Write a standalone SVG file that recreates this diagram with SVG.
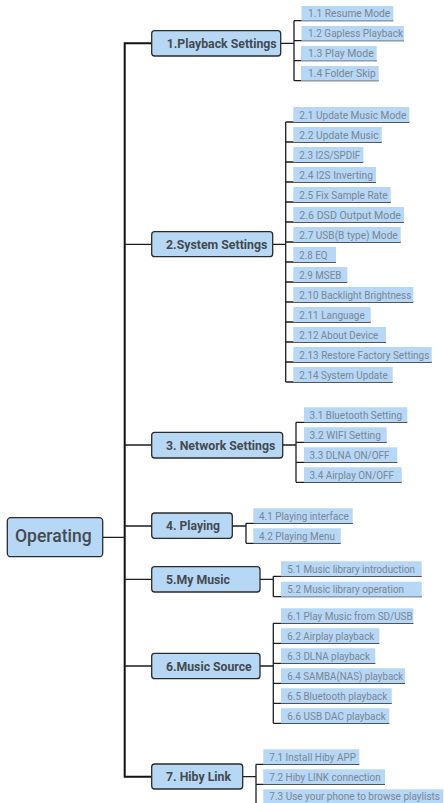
<svg xmlns="http://www.w3.org/2000/svg" width="444" height="803" viewBox="0 0 444 803">
<style>
.bg{fill:#ffffff}
.box{fill:#b7d8f5;stroke:#2b2b2b;stroke-width:1.3}
.lbl{font-family:Roboto,"Liberation Sans",sans-serif;font-weight:bold;font-size:12px;fill:#444a50}
.root{font-family:Roboto,"Liberation Sans",sans-serif;font-weight:500;font-size:17.5px;fill:#444a50}
.hl{fill:#b6d7f5}
.lt{font-family:Roboto,"Liberation Sans",sans-serif;font-size:11px;fill:#7b8694}
.ln{fill:none;stroke:#1e1e1e;stroke-width:1.3}
.tr{fill:none;stroke:#111;stroke-width:2}
</style>
<rect class="bg" x="0" y="0" width="444" height="803"/>
<g id="connectors">
<path class="tr" d="M151.7,43.3 H124.7 V776.7 H151.7"/>
<path class="ln" d="M124.7,244.3 H151.7 M124.7,445 H151.7 M124.7,526 H151.7 M102.7,537.3 H124.7 M124.7,579.3 H151.7 M124.7,666 H151.7"/>
<path class="ln" d="M280.7,43.3 H294 M294,20.7 V80.7 M294,20.7 H393.3 M294,40.7 H404 M294,60.7 H376.7 M294,80.7 H378.7"/>
<path class="ln" d="M272.7,244.3 H285.7 M285.7,122 V382 M285.7,122 H409.3 M285.7,142 H381.7 M285.7,162 H363.3 M285.7,182 H376 M285.7,202 H390.7 M285.7,222 H404 M285.7,242 H400.7 M285.7,262 H336 M285.7,282 H347.3 M285.7,302 H413.3 M285.7,322 H370.7 M285.7,342 H386 M285.7,362 H431.7 M285.7,382 H392.7"/>
<path class="ln" d="M282.7,445 H296 M296,422.3 V482.3 M296,422.3 H407.3 M296,442.3 H386.7 M296,462.3 H397.3 M296,482.3 H401.7"/>
<path class="ln" d="M232.3,526 H246 M246,523.3 V543.3 M246,523.3 H352.7 M246,543.3 H340.7"/>
<path class="ln" d="M260,579.3 H273.3 M273.3,576.3 V596.7 M273.3,576.3 H421.7 M273.3,596.7 H421.7"/>
<path class="ln" d="M260,666 H273.3 M273.3,623.3 V723.3 M273.3,623.3 H413.3 M273.3,643.3 H379.3 M273.3,663.3 H375.3 M273.3,683.3 H405 M273.3,703.3 H391.7 M273.3,723.3 H389.3"/>
<path class="ln" d="M242.7,776.7 H256 M256,764.3 V803 M256,764.3 H359.3 M256,784.3 H385 M256,804.3 H443.3"/>
</g>
<g id="root">
<rect class="box" x="7.3" y="517.7" width="95.4" height="39" rx="3.5"/>
<text class="root" x="15" y="542" textLength="76.7" lengthAdjust="spacingAndGlyphs">Operating</text>
</g>
<g id="n1">
<rect class="box" x="151.7" y="30.7" width="129" height="25.3" rx="3"/>
<text class="lbl" x="166.7" y="48" textLength="110" lengthAdjust="spacingAndGlyphs">1.Playback Settings</text>
</g>
<g id="n1-leaves">
<rect class="hl" x="301.5" y="6" width="91.8" height="14.7"/>
<text class="lt" x="308" y="17.4" textLength="82.3" lengthAdjust="spacingAndGlyphs">1.1 Resume Mode</text>
<rect class="hl" x="301.5" y="26" width="102.5" height="14.7"/>
<text class="lt" x="308" y="37.4" textLength="95" lengthAdjust="spacingAndGlyphs">1.2 Gapless Playback</text>
<rect class="hl" x="301" y="46" width="75.7" height="14.7"/>
<text class="lt" x="308" y="57.4" textLength="65.7" lengthAdjust="spacingAndGlyphs">1.3 Play Mode</text>
<rect class="hl" x="301" y="66" width="77.7" height="14.7"/>
<text class="lt" x="308" y="77.4" textLength="67.7" lengthAdjust="spacingAndGlyphs">1.4 Folder Skip</text>
</g>
<g id="n2">
<rect class="box" x="151.7" y="231.7" width="121" height="25" rx="3"/>
<text class="lbl" x="166" y="249" textLength="101.3" lengthAdjust="spacingAndGlyphs">2.System Settings</text>
</g>
<g id="n2-leaves">
<rect class="hl" x="293.3" y="107" width="116" height="15"/>
<text class="lt" x="299.3" y="118.7" textLength="107" lengthAdjust="spacingAndGlyphs">2.1 Update Music Mode</text>
<rect class="hl" x="293.3" y="127" width="88.4" height="15"/>
<text class="lt" x="299.3" y="138.7" textLength="79.4" lengthAdjust="spacingAndGlyphs">2.2 Update Music</text>
<rect class="hl" x="293.3" y="147" width="70" height="15"/>
<text class="lt" x="299.3" y="158.7" textLength="61" lengthAdjust="spacingAndGlyphs">2.3 I2S/SPDIF</text>
<rect class="hl" x="293.3" y="167" width="82.7" height="15"/>
<text class="lt" x="299.3" y="178.7" textLength="73.7" lengthAdjust="spacingAndGlyphs">2.4 I2S Inverting</text>
<rect class="hl" x="293.3" y="187" width="97.4" height="15"/>
<text class="lt" x="299.3" y="198.7" textLength="88.4" lengthAdjust="spacingAndGlyphs">2.5 Fix Sample Rate</text>
<rect class="hl" x="293.3" y="207" width="110.7" height="15"/>
<text class="lt" x="299.3" y="218.7" textLength="101.7" lengthAdjust="spacingAndGlyphs">2.6 DSD Output Mode</text>
<rect class="hl" x="293.3" y="227" width="107.4" height="15"/>
<text class="lt" x="299.3" y="238.7" textLength="98.4" lengthAdjust="spacingAndGlyphs">2.7 USB(B type) Mode</text>
<rect class="hl" x="293.3" y="247" width="42.7" height="15"/>
<text class="lt" x="299.3" y="258.7" textLength="28" lengthAdjust="spacingAndGlyphs">2.8 EQ</text>
<rect class="hl" x="293.3" y="267" width="54" height="15"/>
<text class="lt" x="299.3" y="278.7" textLength="42" lengthAdjust="spacingAndGlyphs">2.9 MSEB</text>
<rect class="hl" x="293.3" y="287" width="120" height="15"/>
<text class="lt" x="299.3" y="298.7" textLength="112" lengthAdjust="spacingAndGlyphs">2.10 Backlight Brightness</text>
<rect class="hl" x="293.3" y="307" width="77.4" height="15"/>
<text class="lt" x="299.3" y="318.7" textLength="65.4" lengthAdjust="spacingAndGlyphs">2.11 Language</text>
<rect class="hl" x="293.3" y="327" width="92.7" height="15"/>
<text class="lt" x="299.3" y="338.7" textLength="79" lengthAdjust="spacingAndGlyphs">2.12 About Device</text>
<rect class="hl" x="293.3" y="347" width="138.4" height="15"/>
<text class="lt" x="299.3" y="358.7" textLength="130" lengthAdjust="spacingAndGlyphs">2.13 Restore Factory Settings</text>
<rect class="hl" x="293.3" y="367" width="99.4" height="15"/>
<text class="lt" x="299.3" y="378.7" textLength="88.4" lengthAdjust="spacingAndGlyphs">2.14 System Update</text>
</g>
<g id="n3">
<rect class="box" x="151.7" y="432.3" width="131" height="25.7" rx="3"/>
<text class="lbl" x="166" y="449.5" textLength="109.3" lengthAdjust="spacingAndGlyphs">3. Network Settings</text>
</g>
<g id="n3-leaves">
<rect class="hl" x="304" y="407.3" width="103.3" height="15"/>
<text class="lt" x="309.5" y="419" textLength="92.5" lengthAdjust="spacingAndGlyphs">3.1 Bluetooth Setting</text>
<rect class="hl" x="304" y="427.3" width="82.7" height="15"/>
<text class="lt" x="309.5" y="439" textLength="71.5" lengthAdjust="spacingAndGlyphs">3.2 WIFI  Setting</text>
<rect class="hl" x="304" y="447.3" width="93.3" height="15"/>
<text class="lt" x="309.5" y="459" textLength="80" lengthAdjust="spacingAndGlyphs">3.3 DLNA ON/OFF</text>
<rect class="hl" x="304" y="467.3" width="97.7" height="15"/>
<text class="lt" x="309.5" y="479" textLength="84.5" lengthAdjust="spacingAndGlyphs">3.4 Airplay ON/OFF</text>
</g>
<g id="n4">
<rect class="box" x="151.7" y="513" width="80.6" height="25.3" rx="3"/>
<text class="lbl" x="166" y="530.3" textLength="54" lengthAdjust="spacingAndGlyphs">4. Playing</text>
</g>
<g id="n4-leaves">
<rect class="hl" x="253.3" y="508.3" width="99.4" height="15"/>
<text class="lt" x="259" y="520" textLength="89.7" lengthAdjust="spacingAndGlyphs">4.1 Playing interface</text>
<rect class="hl" x="253.3" y="528.3" width="87.4" height="15"/>
<text class="lt" x="259" y="540" textLength="76" lengthAdjust="spacingAndGlyphs">4.2 Playing Menu</text>
</g>
<g id="n5">
<rect class="box" x="151.7" y="566.7" width="108.3" height="25.3" rx="3"/>
<text class="lbl" x="166" y="584" textLength="64" lengthAdjust="spacingAndGlyphs">5.My Music</text>
</g>
<g id="n5-leaves">
<rect class="hl" x="281" y="561.3" width="140.7" height="15"/>
<text class="lt" x="287.3" y="573" textLength="127.7" lengthAdjust="spacingAndGlyphs">5.1 Music library introduction</text>
<rect class="hl" x="281" y="581.7" width="140.7" height="15"/>
<text class="lt" x="287.3" y="593.4" textLength="116.7" lengthAdjust="spacingAndGlyphs">5.2 Music library operation</text>
</g>
<g id="n6">
<rect class="box" x="151.7" y="653.3" width="108.3" height="25.4" rx="3"/>
<text class="lbl" x="166" y="670.5" textLength="85.7" lengthAdjust="spacingAndGlyphs">6.Music Source</text>
</g>
<g id="n6-leaves">
<rect class="hl" x="281" y="608.3" width="132.3" height="15"/>
<text class="lt" x="287.3" y="620" textLength="125.4" lengthAdjust="spacingAndGlyphs">6.1 Play Music from SD/USB</text>
<rect class="hl" x="281" y="628.3" width="98.3" height="15"/>
<text class="lt" x="287.3" y="640" textLength="87" lengthAdjust="spacingAndGlyphs">6.2 Airplay playback</text>
<rect class="hl" x="281" y="648.3" width="94.3" height="15"/>
<text class="lt" x="287.3" y="660" textLength="82.7" lengthAdjust="spacingAndGlyphs">6.3 DLNA playback</text>
<rect class="hl" x="281" y="668.3" width="124" height="15"/>
<text class="lt" x="287.3" y="680" textLength="116" lengthAdjust="spacingAndGlyphs">6.4 SAMBA(NAS) playback</text>
<rect class="hl" x="281" y="688.3" width="110.7" height="15"/>
<text class="lt" x="287.3" y="700" textLength="100" lengthAdjust="spacingAndGlyphs">6.5 Bluetooth playback</text>
<rect class="hl" x="281" y="708.3" width="108.3" height="15"/>
<text class="lt" x="287.3" y="720" textLength="98.4" lengthAdjust="spacingAndGlyphs">6.6 USB DAC playback</text>
</g>
<g id="n7">
<rect class="box" x="151.7" y="764" width="91" height="25" rx="3"/>
<text class="lbl" x="166" y="781" textLength="65" lengthAdjust="spacingAndGlyphs">7. Hiby Link</text>
</g>
<g id="n7-leaves">
<rect class="hl" x="263.3" y="749.3" width="96" height="15"/>
<text class="lt" x="269.3" y="761" textLength="86.7" lengthAdjust="spacingAndGlyphs">7.1 Install Hiby APP</text>
<rect class="hl" x="263.3" y="769.3" width="121.7" height="15"/>
<text class="lt" x="269.3" y="781" textLength="111.4" lengthAdjust="spacingAndGlyphs">7.2 Hiby LINK connection</text>
<rect class="hl" x="263.3" y="789.3" width="180" height="15"/>
<text class="lt" x="269.3" y="799.6" textLength="170.7" lengthAdjust="spacingAndGlyphs">7.3 Use your phone to browse playlists</text>
</g>
</svg>
